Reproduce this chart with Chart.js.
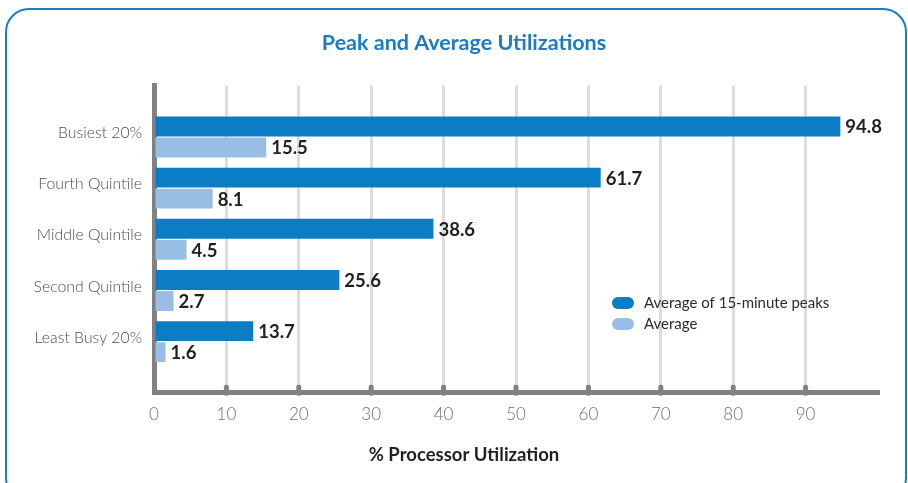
<!DOCTYPE html>
<html>
<head>
<meta charset="utf-8">
<script src="https://cdn.jsdelivr.net/npm/chart.js@4"></script>
<style>
  body { margin: 0; background: #fff; }
  #wrap { position: relative; width: 908px; height: 483px; overflow: hidden; }
  #frame { position: absolute; left: 5px; top: 8px; width: 898px; height: 490px;
           border: 2px solid #1a7cc4; border-radius: 24px; pointer-events: none; }
</style>
</head>
<body>
<div id="wrap">
  <canvas id="util-chart" width="908" height="483"></canvas>
  <div id="frame"></div>
</div>
<script>
const categories = ['Busiest 20%', 'Fourth Quintile', 'Middle Quintile', 'Second Quintile', 'Least Busy 20%'];
const peakValues = [94.8, 61.7, 38.6, 25.6, 13.7];      // Average of 15-minute peaks
const averageValues = [15.5, 8.1, 4.5, 2.7, 1.6];       // Average
const xTickValues = [0, 10, 20, 30, 40, 50, 60, 70, 80, 90];

const FONT = 'Lato, "Open Sans", sans-serif';
const AXIS_GRAY = '#808184';

// value labels at the end of each bar
const barValueLabels = {
  id: 'barValueLabels',
  afterDatasetsDraw(chart) {
    const ctx = chart.ctx;
    ctx.save();
    ctx.font = 'bold 18.5px ' + FONT;
    ctx.fillStyle = '#231f20';
    ctx.textBaseline = 'middle';
    chart.data.datasets.forEach((ds, i) => {
      chart.getDatasetMeta(i).data.forEach((bar, j) => {
        if (ds.data[j] == null) return;
        ctx.fillText(ds.data[j].toFixed(1), bar.x + 5, bar.y + 1);
      });
    });
    ctx.restore();
  }
};

// small tick bumps sitting on the x axis
const axisBumps = {
  id: 'axisBumps',
  afterDatasetsDraw(chart) {
    const ctx = chart.ctx;
    const xs = chart.scales.x;
    const area = chart.chartArea;
    ctx.save();
    ctx.fillStyle = AXIS_GRAY;
    xTickValues.forEach(v => {
      if (v === 0) return;
      const px = xs.getPixelForValue(v);
      ctx.beginPath();
      ctx.roundRect(px - 2.5, area.bottom - 8, 5, 11, 2);
      ctx.fill();
    });
    ctx.restore();
  }
};

// legend drawn inside the plot area
const insideLegend = {
  id: 'insideLegend',
  afterDraw(chart) {
    const ctx = chart.ctx;
    const x = 612, y0 = 303, step = 21;
    ctx.save();
    ctx.font = '15px ' + FONT;
    ctx.textBaseline = 'middle';
    chart.data.datasets.forEach((ds, i) => {
      const y = y0 + i * step;
      ctx.fillStyle = ds.backgroundColor;
      ctx.beginPath();
      ctx.roundRect(x, y - 6, 22, 12, 6);
      ctx.fill();
      ctx.fillStyle = '#2b2b2b';
      ctx.fillText(ds.label, x + 32, y);
    });
    ctx.restore();
  }
};

const ctx = document.getElementById('util-chart').getContext('2d');
new Chart(ctx, {
  type: 'bar',
  data: {
    labels: ['', ...categories, ''],
    datasets: [
      {
        label: 'Average of 15-minute peaks',
        data: [null, ...peakValues, null],
        backgroundColor: '#0a7dc4',
        categoryPercentage: 0.82,
        barPercentage: 0.95
      },
      {
        label: 'Average',
        data: [null, ...averageValues, null],
        backgroundColor: '#98bee6',
        categoryPercentage: 0.82,
        barPercentage: 0.95
      }
    ]
  },
  options: {
    indexAxis: 'y',
    responsive: false,
    animation: false,
    layout: { padding: { left: 20, right: 0, top: 0, bottom: 0 } },
    scales: {
      x: {
        min: 0,
        max: 100,
        afterFit: s => { s.height = 42; },
        ticks: {
          stepSize: 10,
          padding: 12,
          color: '#6d6e71',
          font: { family: FONT, size: 17, weight: 300 },
          callback: v => xTickValues.includes(v) ? String(v) : ''
        },
        grid: {
          drawTicks: false,
          lineWidth: 3,
          color: c => (c.tick && xTickValues.includes(c.tick.value) && c.tick.value !== 0) ? '#dcdcdc' : 'rgba(0,0,0,0)'
        },
        border: { display: true, color: AXIS_GRAY, width: 5 }
      },
      y: {
        offset: false,
        afterFit: s => { s.width = 134; },
        ticks: {
          padding: 12,
          labelOffset: -4,
          color: '#4d4d4f',
          font: { family: FONT, size: 15.8, weight: 300 }
        },
        grid: { display: false, drawTicks: false },
        border: { display: true, color: AXIS_GRAY, width: 5 }
      },
      // empty spacer on the right so the plot ends short of the frame
      yRight: {
        axis: 'y',
        type: 'linear',
        position: 'right',
        afterFit: s => { s.width = 30; },
        ticks: { display: false },
        grid: { display: false, drawTicks: false },
        border: { display: false }
      }
    },
    plugins: {
      legend: { display: false },
      tooltip: { enabled: false },
      title: {
        display: true,
        text: 'Peak and Average Utilizations',
        color: '#1a7cc4',
        font: { family: FONT, size: 21.5, weight: 'bold' },
        padding: { top: 30, bottom: 30 }
      },
      subtitle: {
        display: true,
        position: 'bottom',
        text: '% Processor Utilization',
        color: '#231f20',
        font: { family: FONT, size: 18.5, weight: 'bold' },
        padding: { top: 9, bottom: 17 }
      }
    }
  },
  plugins: [barValueLabels, axisBumps, insideLegend]
});
</script>
</body>
</html>
